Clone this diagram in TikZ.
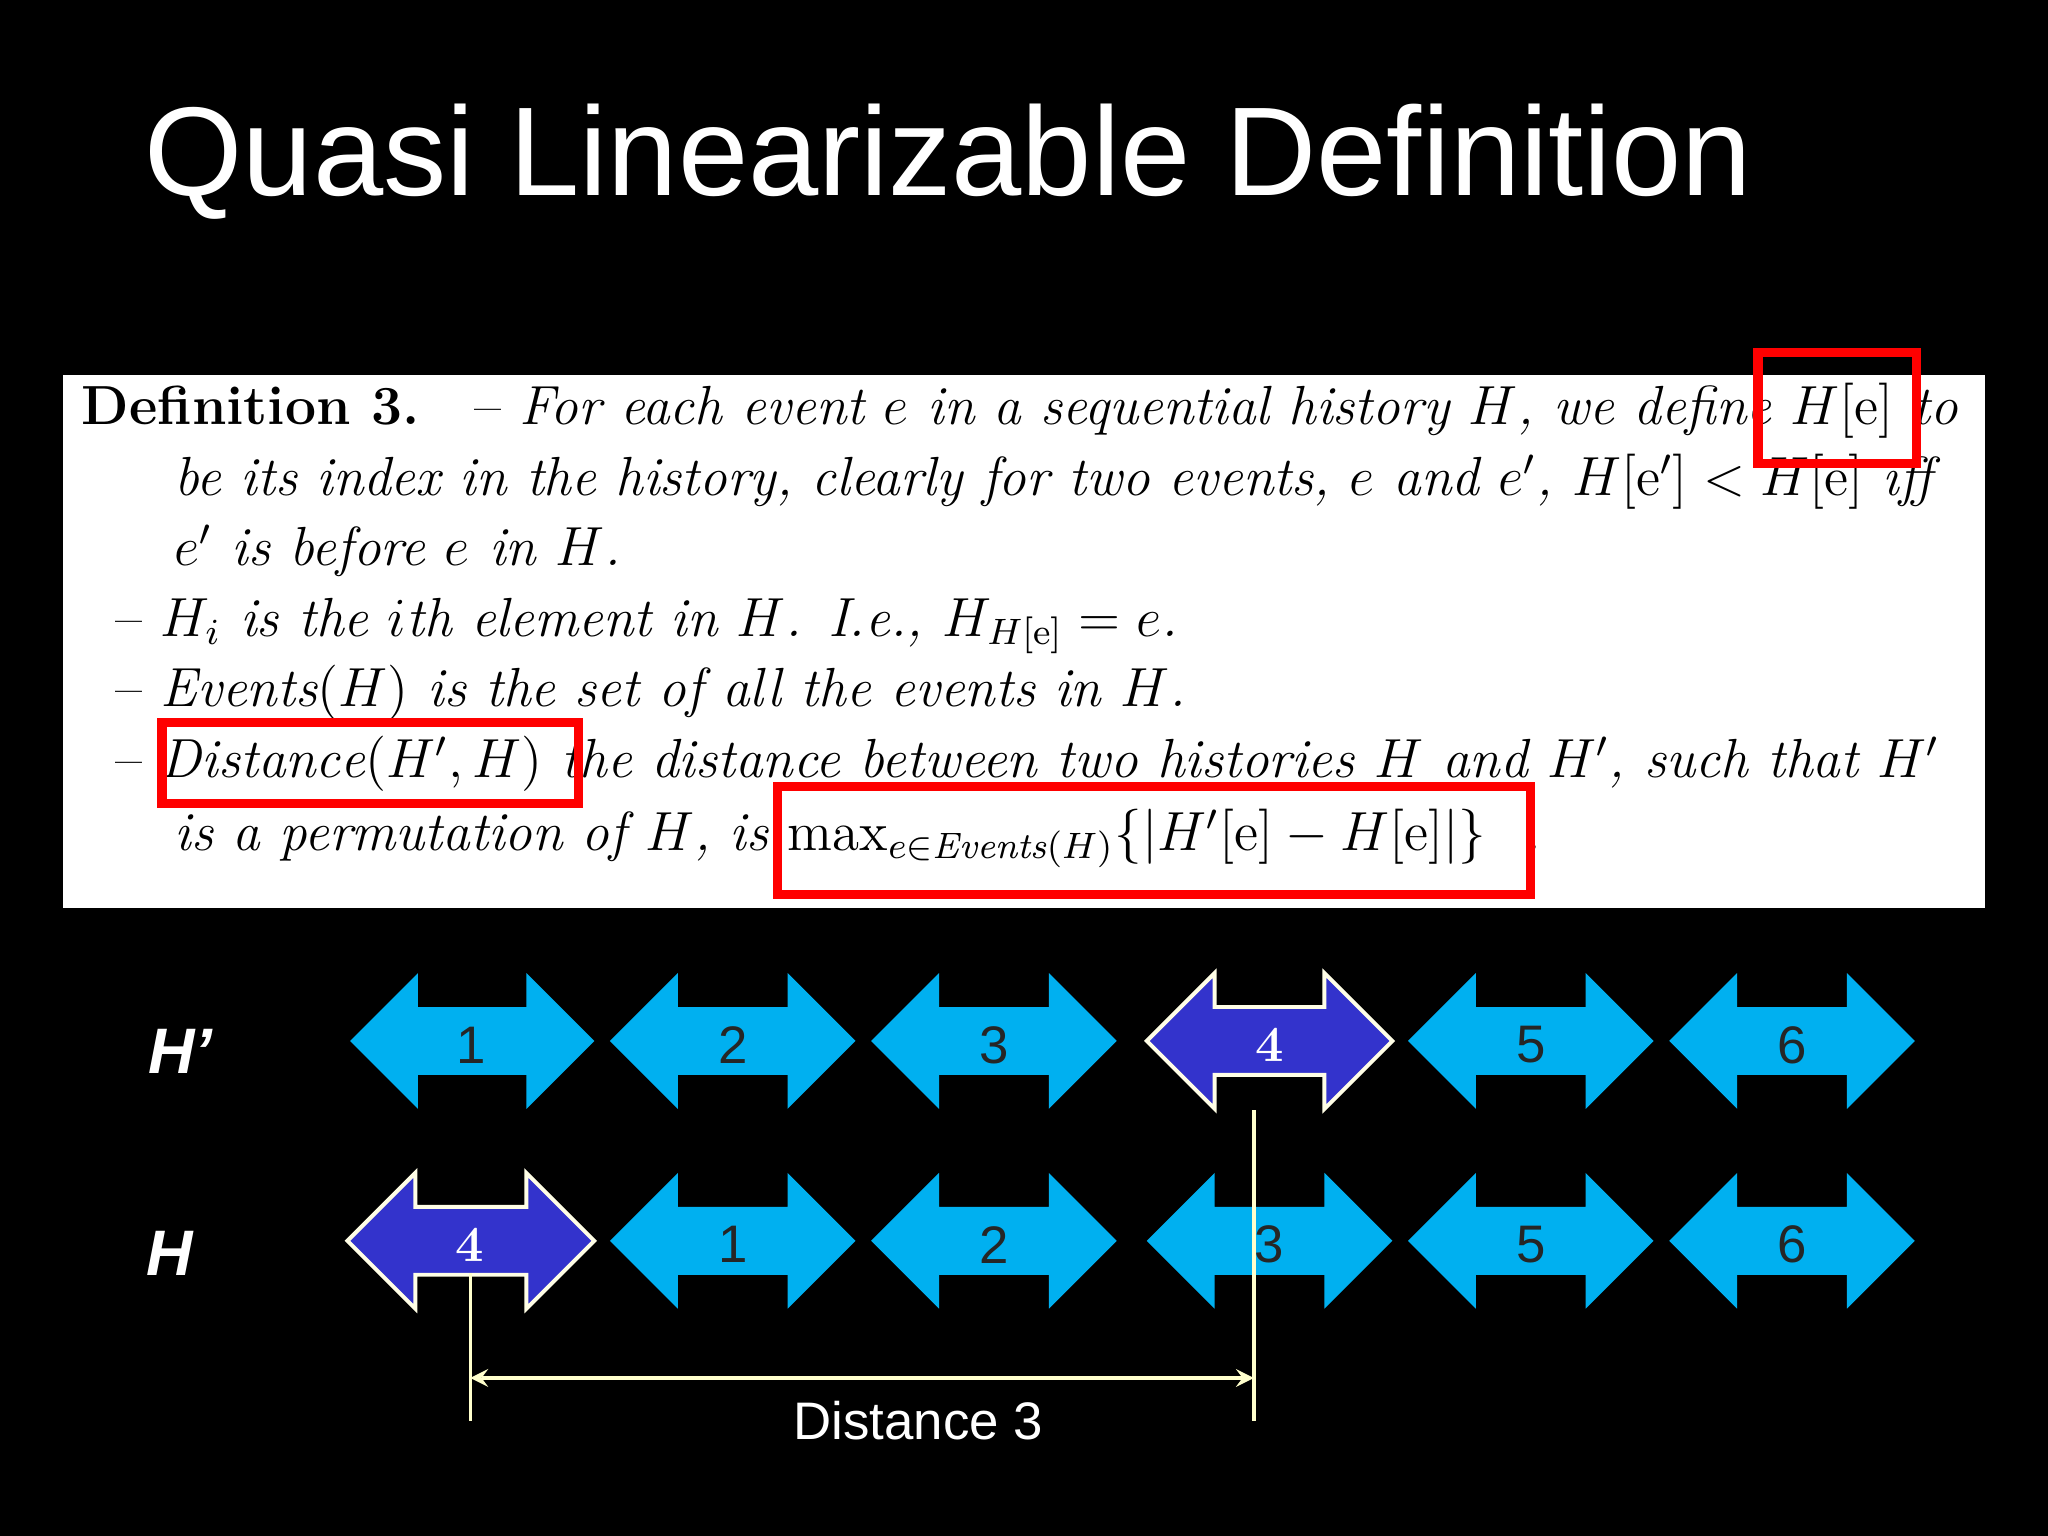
\documentclass[tikz,border=0pt]{standalone}
\usepackage{fontspec}
\newfontfamily\arial{Liberation Sans}
\begin{document}
\begin{tikzpicture}[x=0.01cm,y=-0.01cm,
  dl/.style={anchor=base west,inner sep=0,font=\fontsize{12}{14}\selectfont\itshape},
  redbox/.style={draw=red,line width=0.07cm},
  cyanarr/.style={fill={rgb,255:red,0;green,176;blue,240},draw=none},
  darkarr/.style={fill={rgb,255:red,51;green,51;blue,204},draw=white!90!yellow,line width=0.03cm},
  num/.style={font=\arial\fontsize{11.5}{13}\selectfont,text=black!85},
  wnum/.style={text=white,font=\bfseries\fontsize{11}{13}\selectfont},
  lab/.style={text=white,font=\arial\bfseries\itshape\fontsize{14}{16}\selectfont},
  pale/.style={draw={rgb,255:red,255;green,255;blue,204},line width=0.025cm}]
\useasboundingbox (0,0) rectangle (1568,1176);
\fill[black] (0,0) rectangle (1568,1176);
\node[anchor=base west,inner sep=0,text=white,font=\arial\fontsize{27.5}{30}\selectfont] (title) at (110,150) {Quasi Linearizable Definition};
\fill[white] (48,287) rectangle (1520,695);
\node[dl] (l1) at (62,325) {\upshape\textbf{Definition 3.}\quad -- \itshape For each event $e$ in a sequential history $H$, we define $H[\mathrm{e}]$ to};
\node[dl] (l2) at (133,379) {be its index in the history, clearly for two events, $e$ and $e'$, $H[\mathrm{e}'] < H[\mathrm{e}]$ iff};
\node[dl] (l3) at (133,433) {$e'$ is before $e$ in $H$.};
\node[dl] (l4) at (88,487) {\upshape --\ \itshape $H_i$ is the $i$th element in $H$. I.e., $H_{H[\mathrm{e}]}=e$.};
\node[dl] (l5) at (88,541) {\upshape --\ \itshape $\mathit{Events}(H)$ is the set of all the events in $H$.};
\node[dl] (l6) at (88,595) {\upshape --\ \itshape $\mathit{Distance}(H',H)$ the distance between two histories $H$ and $H'$, such that $H'$};
\node[dl] (l7) at (133,651) {is a permutation of $H$, is $\max_{e\in \mathit{Events}(H)}\{|H'[\mathrm{e}]-H[\mathrm{e}]|\}$\ \ .};
\draw[redbox] (1346,270) rectangle (1467,355);
\draw[redbox] (124,553) rectangle (443,615);
\draw[redbox] (595,602) rectangle (1172,685);
\def\darr#1#2#3#4{%
  \path[#4] (#1,#3) -- (#1+52,#3-52) -- (#1+52,#3-26) -- (#2-52,#3-26) -- (#2-52,#3-52) -- (#2,#3) -- (#2-52,#3+52) -- (#2-52,#3+26) -- (#1+52,#3+26) -- (#1+52,#3+52) -- cycle;}
\darr{268}{455}{797}{cyanarr}
\darr{467}{655}{797}{cyanarr}
\darr{667}{855}{797}{cyanarr}
\darr{878}{1066}{797}{darkarr}
\darr{1078}{1266}{797}{cyanarr}
\darr{1278}{1466}{797}{cyanarr}
\darr{266}{455}{950}{darkarr}
\darr{467}{655}{950}{cyanarr}
\darr{667}{855}{950}{cyanarr}
\darr{878}{1066}{950}{cyanarr}
\darr{1078}{1266}{950}{cyanarr}
\darr{1278}{1466}{950}{cyanarr}
\node[num] (a1) at (361,800) {1};
\node[num] (a2) at (561,800) {2};
\node[num] (a3) at (761,800) {3};
\node[wnum] (a4) at (972,800) {4};
\node[num] (a5) at (1172,800) {5};
\node[num] (a6) at (1372,800) {6};
\node[wnum] (b4) at (360,953) {4};
\node[num] (b1) at (561,953) {1};
\node[num] (b2) at (761,953) {2};
\node[num] (b3) at (972,953) {3};
\node[num] (b5) at (1172,953) {5};
\node[num] (b6) at (1372,953) {6};
\node[lab] (hp) at (138,805) {H’};
\node[lab] (h) at (130,960) {H};
\coordinate (t1) at (960,850); \coordinate (t1b) at (960,1088);
\coordinate (t2) at (360,975); \coordinate (t2b) at (360,1088);
\coordinate (m1) at (360,1055); \coordinate (m2) at (960,1055);
\draw[pale] (t1) -- (t1b);
\draw[pale] (t2) -- (t2b);
\draw[pale,<->,>=stealth] (m1) -- (m2);
\node[text=white,font=\arial\fontsize{11.5}{13}\selectfont] (dist) at (703,1088) {Distance 3};
\end{tikzpicture}
\end{document}
